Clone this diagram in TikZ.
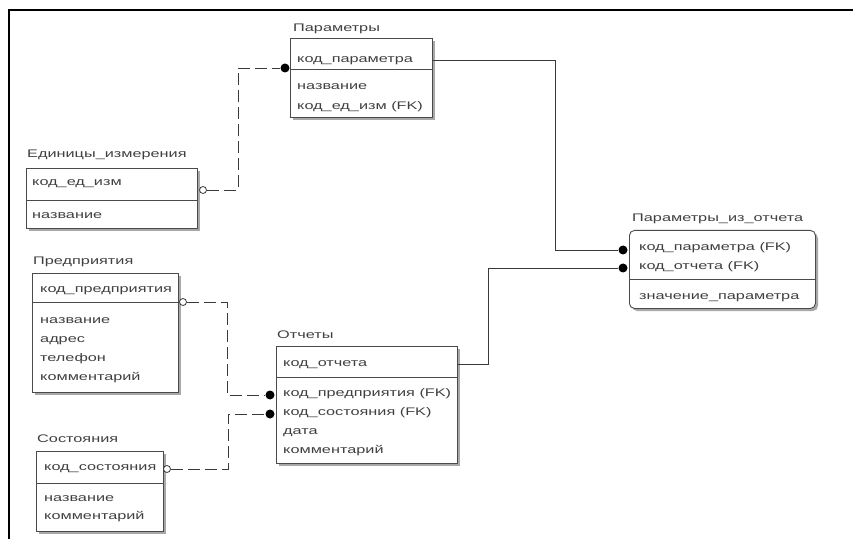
\documentclass[tikz,border=0pt]{standalone}
\usepackage{fontspec}
\newfontfamily\erfont[FakeStretch=1.48]{Liberation Sans}
\definecolor{boxc}{HTML}{4A4A4A}
\definecolor{shadc}{HTML}{A8A8A8}
\definecolor{txtc}{HTML}{404040}
\definecolor{linec}{HTML}{3A3A3A}
\tikzset{
  ebox/.style={draw=boxc, fill=white, line width=0.9bp, inner sep=0pt, anchor=north west},
  shad/.style={fill=shadc},
  sepline/.style={draw=boxc, line width=0.9bp},
  txt/.style={anchor=mid west, inner sep=0pt, text=txtc, font=\erfont\fontsize{11bp}{13bp}\selectfont},
  rel/.style={draw=linec, line width=0.9bp},
  relopt/.style={rel, dash pattern=on 12bp off 5bp},
  fdot/.style={fill=black, circle, inner sep=0pt, minimum size=9bp},
  odot/.style={draw=linec, fill=white, circle, inner sep=0pt, minimum size=7bp, line width=0.8bp},
}
\begin{document}
\begin{tikzpicture}[x=1bp,y=-1bp]
\useasboundingbox (0,0) rectangle (853,539);
\fill[white] (0,0) rectangle (853,539);
% frame
\draw[black, line width=2bp] (9,539) -- (9,10) -- (853,10);

% shadows
\fill[shad] (293,41) rectangle ++(142,79);
\fill[shad] (29,171) rectangle ++(171,60);
\fill[shad] (35,276) rectangle ++(146,119);
\fill[shad] (279,349) rectangle ++(181,117);
\fill[shad] (39,454) rectangle ++(127,80);
\fill[shad, rounded corners=5bp] (632,233) rectangle ++(186,78);

% boxes
\node[ebox, minimum width=142bp, minimum height=79bp] (par) at (290,38) {};
\node[ebox, minimum width=171bp, minimum height=60bp] (edi) at (26,168) {};
\node[ebox, minimum width=146bp, minimum height=119bp] (pre) at (32,273) {};
\node[ebox, minimum width=181bp, minimum height=117bp] (otc) at (276,346) {};
\node[ebox, minimum width=127bp, minimum height=80bp] (sos) at (36,451) {};
\node[ebox, rounded corners=5bp, minimum width=186bp, minimum height=78bp] (pio) at (629,230) {};

% separators
\draw[sepline] ([yshift=-31bp]par.north west) -- ([yshift=-31bp]par.north east);
\draw[sepline] ([yshift=-32bp]edi.north west) -- ([yshift=-32bp]edi.north east);
\draw[sepline] ([yshift=-29bp]pre.north west) -- ([yshift=-29bp]pre.north east);
\draw[sepline] ([yshift=-31bp]otc.north west) -- ([yshift=-31bp]otc.north east);
\draw[sepline] ([yshift=-32bp]sos.north west) -- ([yshift=-32bp]sos.north east);
\draw[sepline] ([yshift=-49bp]pio.north west) -- ([yshift=-49bp]pio.north east);

% texts
\node[txt] (parT) at (293,29) {Параметры};
\node[txt] (par1) at (297,60) {код\_параметра};
\node[txt] (par2) at (297,87) {название};
\node[txt] (par3) at (297,107) {код\_ед\_изм (FK)};

\node[txt] (ediT) at (27,155) {Единицы\_измерения};
\node[txt] (edi1) at (32,183) {код\_ед\_изм};
\node[txt] (edi2) at (32,216) {название};

\node[txt] (preT) at (33,262) {Предприятия};
\node[txt] (pre1) at (40,290) {код\_предприятия};
\node[txt] (pre2) at (40,321) {название};
\node[txt] (pre3) at (40,340) {адрес};
\node[txt] (pre4) at (40,359) {телефон};
\node[txt] (pre5) at (40,378) {комментарий};

\node[txt] (otcT) at (277,336) {Отчеты};
\node[txt] (otc1) at (283,364) {код\_отчета};
\node[txt] (otc2) at (283,394) {код\_предприятия (FK)};
\node[txt] (otc3) at (283,413) {код\_состояния (FK)};
\node[txt] (otc4) at (283,432) {дата};
\node[txt] (otc5) at (283,451) {комментарий};

\node[txt] (sosT) at (37,440) {Состояния};
\node[txt] (sos1) at (44,468) {код\_состояния};
\node[txt] (sos2) at (44,499) {название};
\node[txt] (sos3) at (44,517) {комментарий};

\node[txt] (pioT) at (632,219) {Параметры\_из\_отчета};
\node[txt] (pio1) at (639,248) {код\_параметра (FK)};
\node[txt] (pio2) at (639,267) {код\_отчета (FK)};
\node[txt] (pio3) at (639,297) {значение\_параметра};

% relationship ends
\node[odot] (o1) at (203,190) {};
\node[fdot] (d1) at (285,68) {};
\node[fdot] (d2) at (623,250) {};
\node[fdot] (d3) at (623,268) {};
\node[odot] (o4) at (183,302) {};
\node[fdot] (d4) at (270,395) {};
\node[odot] (o5) at (167,469) {};
\node[fdot] (d5) at (270,414) {};

% relationships
\draw[relopt] (o1) -| (238,68) -- (d1);
\draw[rel] ([yshift=-22bp]par.north east) -| (555,250) -- (d2);
\draw[rel] ([yshift=-18bp]otc.north east) -| (488,268) -- (d3);
\draw[relopt] (o4) -| (227,395) -- (d4);
\draw[relopt] (o5) -| (228,414) -- (d5);
\end{tikzpicture}
\end{document}
